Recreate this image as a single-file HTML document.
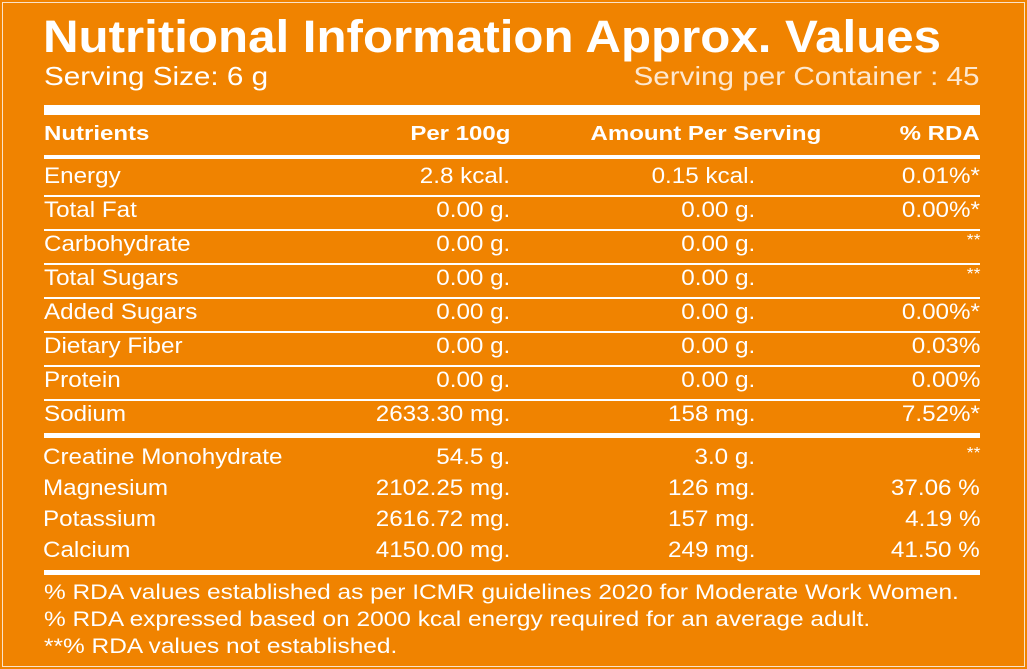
<!DOCTYPE html>
<html><head><style>
body{margin:0;width:1027px;height:669px;background:#F08300;position:relative;overflow:hidden;font-family:"Liberation Sans",Arial,sans-serif;color:#fff}
.b{position:absolute;left:2px;top:2px;width:1021px;height:663px;border:1px solid #fbe3c8}
.l{position:absolute;left:44px;width:936px;background:#fff}
.t{position:absolute;white-space:nowrap;line-height:1}
</style></head><body>
<div class="b"></div>
<div id="rows"></div>
<div class="l" style="top:105px;height:10px"></div>
<div class="l" style="top:155px;height:4px"></div>
<div class="l" style="top:433px;height:5px"></div>
<div class="l" style="top:570px;height:5px"></div>
<script>
var h='';
function T(x,y,s,fs,b,right,sc,col){sc=sc||1.1;return '<div class="t" style="'+(right?'right:'+(1027-x)+'px;transform-origin:right top':'left:'+x+'px;transform-origin:left top')+';transform:scaleX('+sc+');top:'+y+'px;font-size:'+fs+'px;'+(b?'font-weight:bold;':'')+(col?'color:'+col+';':'')+'">'+s+'</div>';}
h+=T(43,14,'Nutritional Information Approx. Values',45,1,0,1.094);
h+=T(44,63,'Serving Size: 6 g',26,0,0,1.14)+T(980,63,'Serving per Container : 45',26,0,1,1.14,'#fde8d0');
h+=T(44,124,'Nutrients',20,1,0,1.2)+T(510,124,'Per 100g',20,1,1,1.2)+T(821,124,'Amount Per Serving',20,1,1,1.2)+T(980,124,'% RDA',20,1,1,1.2);
var R=[['Energy','2.8 kcal.','0.15 kcal.','0.01%*'],['Total Fat','0.00 g.','0.00 g.','0.00%*'],['Carbohydrate','0.00 g.','0.00 g.','**'],['Total Sugars','0.00 g.','0.00 g.','**'],['Added Sugars','0.00 g.','0.00 g.','0.00%*'],['Dietary Fiber','0.00 g.','0.00 g.','0.03%'],['Protein','0.00 g.','0.00 g.','0.00%'],['Sodium','2633.30 mg.','158 mg.','7.52%*']];
R.forEach(function(r,i){var y=165+i*34;h+=T(44,y,r[0],22)+T(510,y,r[1],22,0,1)+T(755,y,r[2],22,0,1)+T(980,y,r[3],r[3]=='**'?16:22,0,1);if(i<7)h+='<div class="l" style="top:'+(195+i*34)+'px;height:2px"></div>';});
var S=[['Creatine Monohydrate','54.5 g.','3.0 g.','**'],['Magnesium','2102.25 mg.','126 mg.','37.06 %'],['Potassium','2616.72 mg.','157 mg.','4.19 %'],['Calcium','4150.00 mg.','249 mg.','41.50 %']];
S.forEach(function(r,i){var y=446+i*31;h+=T(43,y,r[0],22)+T(510,y,r[1],22,0,1)+T(755,y,r[2],22,0,1)+T(980,y,r[3],r[3]=='**'?16:22,0,1);});
h+=T(44,582,'% RDA values established as per ICMR guidelines 2020 for Moderate Work Women.',21,0,0,1.164)+T(44,609,'% RDA expressed based on 2000 kcal energy required for an average adult.',21,0,0,1.164)+T(44,636,'**% RDA values not established.',21,0,0,1.164);
document.getElementById('rows').innerHTML=h;
</script>
</body></html>
